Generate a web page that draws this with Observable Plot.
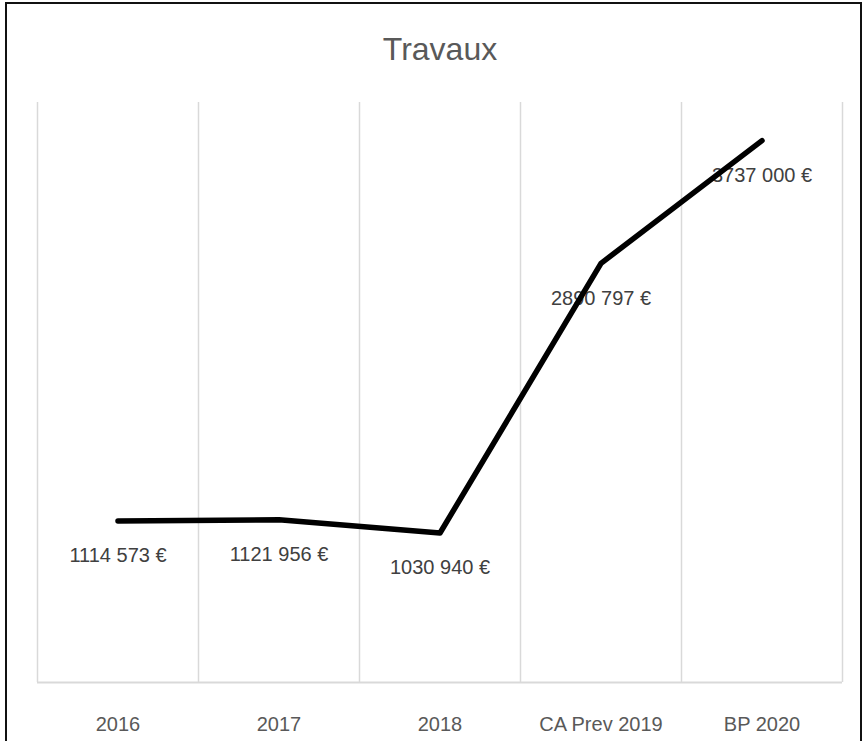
<!DOCTYPE html>
<html>
<head>
<meta charset="utf-8">
<script src="https://cdn.jsdelivr.net/npm/d3@7"></script>
<script src="https://cdn.jsdelivr.net/npm/@observablehq/plot@0.6"></script>
<style>
  html, body { margin: 0; padding: 0; background: #fff; overflow: hidden; }
  #frame { position: absolute; left: 5px; top: 2px; width: 857px; height: 800px; border: 2px solid #111; box-sizing: border-box; }
  #title { position: absolute; left: 0; top: 33px; width: 880px; text-align: center; font-family: "Liberation Sans", Arial, sans-serif; font-size: 32px; line-height: 32px; color: #595959; }
  #chart { position: absolute; left: 0; top: 0; }
</style>
</head>
<body>
<div id="frame"></div>
<div id="title">Travaux</div>
<div id="chart"></div>
<script>
const categories = ["2016", "2017", "2018", "CA Prev 2019", "BP 2020"];
const values = [1114573, 1121956, 1030940, 2890797, 3737000];
const valueLabels = ["1114 573 €", "1121 956 €", "1030 940 €", "2890 797 €", "3737 000 €"];
const yMax = 4000000;

const n = categories.length;
const data = categories.map((c, i) => ({ category: c, xi: i + 0.5, value: values[i], label: valueLabels[i] }));
const font = "'Liberation Sans', Arial, sans-serif";

const chart = Plot.plot({
  width: 863,
  height: 741,
  marginTop: 102,
  marginBottom: 59,
  marginLeft: 37,
  marginRight: 21,
  style: { fontFamily: font, fontSize: "20px", background: "transparent" },
  x: { domain: [0, n], axis: null, label: null },
  y: { domain: [0, yMax], axis: null, label: null },
  marks: [
    Plot.ruleX(d3.range(n + 1), { stroke: "#d9d9d9", strokeWidth: 1.5 }),
    Plot.ruleY([0], { stroke: "#d9d9d9", strokeWidth: 1.8 }),
    Plot.axisX(data.map(d => d.xi), {
      tickSize: 0,
      tickPadding: 34,
      tickFormat: t => categories[Math.floor(t)],
      label: null,
      fontSize: 20,
      color: "#595959"
    }),
    Plot.text(data, { x: "xi", y: "value", text: "label", dy: 35, fontSize: 20, fill: "#404040" }),
    Plot.line(data, { x: "xi", y: "value", stroke: "#000", strokeWidth: 5.5, strokeLinecap: "round", strokeLinejoin: "round" })
  ]
});
document.getElementById("chart").appendChild(chart);
</script>
</body>
</html>
